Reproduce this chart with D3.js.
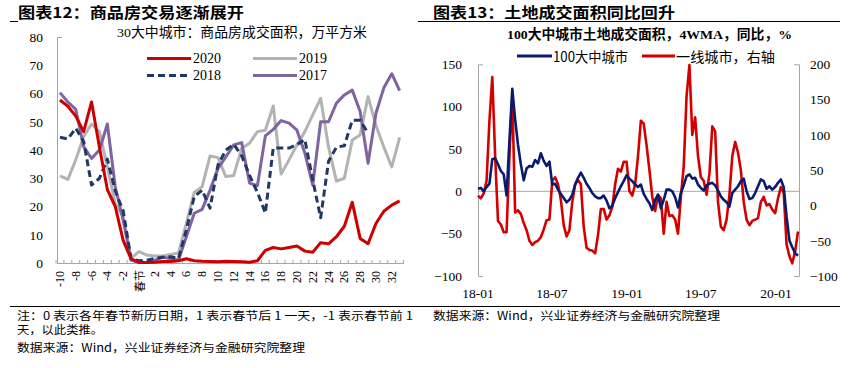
<!DOCTYPE html>
<html><head><meta charset="utf-8">
<script src="https://cdn.jsdelivr.net/npm/d3@7"></script>
<style>
body{margin:0;background:#fff;}
svg{display:block;background:#fff;}
text{font-family:"Liberation Serif","Noto Sans CJK SC",serif;fill:#000;}
.cjk{font-family:"Noto Sans CJK SC","Liberation Serif",sans-serif;}
</style></head><body>
<svg id="c" width="865" height="368"></svg>
<script>
// ---------- Chart 12 data ----------
const categories = [-10,-9,-8,-7,-6,-5,-4,-3,-2,-1,0,1,2,3,4,5,6,7,8,9,10,11,12,13,14,15,16,17,18,19,20,21,22,23,24,25,26,27,28,29,30,31,32,33];
const xTickValues = [-10,-8,-6,-4,-2,0,2,4,6,8,10,12,14,16,18,20,22,24,26,28,30,32];
const xTickLabels = ["-10","-8","-6","-4","-2","春节","2","4","6","8","10","12","14","16","18","20","22","24","26","28","30","32"];
const yTicksLeft = [0,10,20,30,40,50,60,70,80];
const s2020 = [57.7,55.5,52,46.5,57,41,26,20,8,1.5,0.2,0.2,0.3,0.5,0.5,0.8,1.5,0.8,0.6,0.5,0.4,0.6,0.5,0.4,0.3,0.8,4.5,5.5,5,5.5,6,4.2,3.8,7.2,6.8,9.3,13,21.5,8.7,6.8,14,18.3,20.5,22];
const s2019 = [30.8,29.6,36.5,44.7,49.2,46.5,34,21,16.4,1.7,4,2.8,2.5,2.5,3,3.5,14,25,27,37.9,37.3,30.6,31,40.6,42.4,46.5,47,55.6,31.5,36.5,41.8,46.5,52.4,58.3,41,29,30,43.5,45.3,58.9,48.8,41,34,44.5];
const s2018 = [44.5,43.9,47.7,43,27.6,30,36.8,25.5,18.5,1.5,0.8,1,1.6,2,2.2,1.6,11.7,23.5,25.8,19.4,34.7,40,42,38,31,25,17.7,40.7,40.7,40.7,41.9,43.7,29.4,16,36,41,41.5,50.5,50.5,46,null,null,null,null];
const s2017 = [60.3,57,54.4,41.2,37,40,49.2,27,15.2,1,0.2,0.2,1,2,1.6,1,9.3,17.6,19,25.8,33.5,37.6,41.8,42.6,28.3,27.4,45,47.3,50.4,49.5,47,38.9,27.6,50,50,56.6,59.5,61.2,53.6,35.3,53,62,67,61];
const seriesNames12 = ["2020","2019","2018","2017"];

// ---------- Chart 13 data ----------
const weekStart = "2018-01-01", weekEnd = "2020-02-25";
const city100 = [3,4,0,5,9,38,39,32,24,20,-5,60,121,85,55,32,13,27,30,29,37,33,45,36,30,35,8,9,2,-3,-8,-13,-10,-4,8,16,22,16,9,4,-2,-6,-8,-8,-5,-11,-20,-17,-8,-1,6,12,19,15,12,8,5,8,-3,-9,-14,-22,-10,-4,-20,-10,2,2,0,-7,-19,-2,7,18,20,15,16,8,4,1,7,9,10,7,1,-6,-10,-13,-18,-2,2,6,12,15,0,-9,-8,-2,6,14,12,3,6,2,5,10,14,5,-30,-58,-66,-73,-76];
const tier1 = [14,10,17,35,120,182,70,-22,-27,-38,-38,70,155,-10,-7,-12,-25,-35,-50,-56,-52,-50,-45,-34,-21,-20,35,40,30,8,-28,-44,-35,5,30,36,30,-30,-60,-63,-64,-68,-42,-5,-5,-20,-14,-2,30,52,48,62,62,20,14,30,70,120,116,85,50,12,-8,15,10,-40,5,-15,-14,-20,-40,12,55,155,199,100,125,70,40,35,15,45,112,105,5,-30,-35,-20,15,70,90,75,50,5,-20,-28,-22,-20,-18,5,12,0,2,-6,-11,10,26,18,-55,-72,-82,-65,-37];
const yTicksL13 = [-100,-50,0,50,100,150];
const yTicksR13 = [-100,-50,0,50,100,150,200];
const xLabels13 = ["18-01","18-07","19-01","19-07","20-01"];

const svg = d3.select("#c");
svg.append("rect").attr("width",865).attr("height",368).attr("fill","#fff");

// ---------- Headers / frame lines ----------
svg.append("text").attr("class","cjk").attr("x",18).attr("y",17.5).attr("font-size",15).attr("font-weight","bold")
  .attr("textLength",226).attr("lengthAdjust","spacingAndGlyphs").text("图表12：商品房交易逐渐展开");
svg.append("text").attr("class","cjk").attr("x",433).attr("y",17.5).attr("font-size",15).attr("font-weight","bold")
  .attr("textLength",242).attr("lengthAdjust","spacingAndGlyphs").text("图表13：土地成交面积同比回升");
const hl = (x1,x2,y)=>svg.append("line").attr("x1",x1).attr("x2",x2).attr("y1",y).attr("y2",y).attr("stroke","#000").attr("stroke-width",1);
hl(10,18,21.5); hl(418,840,21.5); hl(10,840,306.5);

// ---------- Chart 12 ----------
const x12 = d3.scaleBand().domain(categories).range([56,403.6]).padding(0);
const y12 = d3.scaleLinear().domain([0,80]).range([263,37]);
const axisCol = "#a6a6a6";

svg.append("text").attr("x",242).attr("y",37).attr("text-anchor","middle").attr("font-size",13.5)
  .attr("textLength",250).attr("lengthAdjust","spacingAndGlyphs").text("30大中城市：商品房成交面积，万平方米");

const yAx12 = svg.append("g").attr("transform","translate(57,0)")
  .call(d3.axisLeft(y12).tickValues(yTicksLeft).tickSizeInner(0).tickSizeOuter(-5).tickPadding(14));
yAx12.select(".domain").attr("stroke",axisCol);
yAx12.selectAll("text").attr("font-size",13.5).attr("fill","#000").attr("font-family","Liberation Serif");

// x axis line + inward ticks
svg.append("line").attr("x1",57).attr("x2",404).attr("y1",263.5).attr("y2",263.5).attr("stroke",axisCol);
svg.append("g").selectAll("line").data(categories.concat(["end"])).join("line")
  .attr("x1",d=>d==="end"?403.6:x12(d)).attr("x2",d=>d==="end"?403.6:x12(d))
  .attr("y1",263.5).attr("y2",260).attr("stroke",axisCol);
svg.append("g").selectAll("text").data(xTickValues).join("text")
  .attr("transform",d=>`translate(${x12(d)+x12.bandwidth()/2},${d===0?270:271}) rotate(-90)`)
  .attr("text-anchor","end").attr("dominant-baseline","central")
  .attr("font-size",d=>d===0?11:12).attr("class",d=>d===0?"cjk":null)
  .text((d,i)=>xTickLabels[i]);

const line12 = d3.line().defined(d=>d.v!=null).x(d=>x12(d.c)+x12.bandwidth()/2).y(d=>y12(d.v));
const mk = arr => categories.map((c,i)=>({c, v:arr[i]}));
const styles12 = {
  "2019":{data:s2019,color:"#b3b3b3",dash:null,w:3},
  "2017":{data:s2017,color:"#8064a2",dash:null,w:3},
  "2018":{data:s2018,color:"#1f3864",dash:"7,4",w:3},
  "2020":{data:s2020,color:"#cc0000",dash:null,w:3}
};
["2019","2017","2018","2020"].forEach(k=>{
  const s = styles12[k];
  svg.append("path").datum(mk(s.data)).attr("d",line12).attr("fill","none")
    .attr("stroke",s.color).attr("stroke-width",s.w).attr("stroke-linejoin","round")
    .attr("stroke-dasharray",s.dash);
});
// legend
const leg12 = [{k:"2020",x:147,y:58.5},{k:"2019",x:253,y:58.5},{k:"2018",x:147,y:75.5},{k:"2017",x:253,y:75.5}];
leg12.forEach(l=>{
  const s = styles12[l.k];
  svg.append("line").attr("x1",l.x).attr("x2",l.x+44).attr("y1",l.y).attr("y2",l.y)
    .attr("stroke",s.color).attr("stroke-width",s.w).attr("stroke-dasharray",s.dash);
  svg.append("text").attr("x",l.x+46).attr("y",l.y).attr("dominant-baseline","central").attr("font-size",14).text(l.k);
});

// notes
const note = (x,y,t,len)=>{const e=svg.append("text").attr("class","cjk").attr("x",x).attr("y",y).attr("font-size",11.5).attr("fill","#111").text(t); if(len) e.attr("textLength",len).attr("lengthAdjust","spacingAndGlyphs"); return e;};
note(17,319.5,"注：0 表示各年春节新历日期，1 表示春节后 1 一天，-1 表示春节前 1",396);
note(17,334,"天，以此类推。",86);
note(17,352,"数据来源：Wind，兴业证券经济与金融研究院整理",288);
note(433,319.5,"数据来源：Wind，兴业证券经济与金融研究院整理",287);

// ---------- Chart 13 ----------
const weeks = d3.timeMonday.range(new Date(weekStart+"T00:00:00"), new Date(weekEnd+"T00:00:00"));
const x13 = d3.scaleTime().domain([weeks[0], weeks[weeks.length-1]]).range([478,798]);
const yL = d3.scaleLinear().domain([-100,150]).range([276,64.3]);
const yR = d3.scaleLinear().domain([-100,200]).range([276,64.3]);

svg.append("text").attr("x",649.5).attr("y",39).attr("text-anchor","middle").attr("font-size",13.5).attr("font-weight","bold")
  .attr("textLength",285).attr("lengthAdjust","spacingAndGlyphs").text("100大中城市土地成交面积，4WMA，同比，%");

const aL = svg.append("g").attr("transform","translate(478,0)")
  .call(d3.axisLeft(yL).tickValues(yTicksL13).tickSizeInner(0).tickSizeOuter(-5).tickPadding(16));
const aR = svg.append("g").attr("transform","translate(799,0)")
  .call(d3.axisRight(yR).tickValues(yTicksR13).tickSizeInner(0).tickSizeOuter(-5).tickPadding(11));
[aL,aR].forEach(a=>{a.select(".domain").attr("stroke",axisCol); a.selectAll("text").attr("font-size",13.5).attr("fill","#000").attr("font-family","Liberation Serif");});
// zero line
svg.append("line").attr("x1",478).attr("x2",799).attr("y1",yL(0)).attr("y2",yL(0)).attr("stroke",axisCol);
// x labels
const parseYM = d3.timeParse("%y-%m");
svg.append("g").selectAll("text").data(xLabels13).join("text")
  .attr("x",d=>x13(parseYM(d))).attr("y",298).attr("text-anchor","middle").attr("font-size",13.5).text(d=>d);

const lineL = d3.line().x((d,i)=>x13(weeks[i])).y(d=>yL(d));
const lineR = d3.line().x((d,i)=>x13(weeks[i])).y(d=>yR(d));
svg.append("path").datum(tier1).attr("d",lineR).attr("fill","none").attr("stroke","#d40000").attr("stroke-width",2.6).attr("stroke-linejoin","round");
svg.append("path").datum(city100).attr("d",lineL).attr("fill","none").attr("stroke","#0a1a6e").attr("stroke-width",2.6).attr("stroke-linejoin","round");

// legend
svg.append("line").attr("x1",517).attr("x2",552).attr("y1",56).attr("y2",56).attr("stroke","#0a1a6e").attr("stroke-width",3);
svg.append("text").attr("class","cjk").attr("x",553).attr("y",56).attr("dominant-baseline","central").attr("font-size",14).attr("fill","#444")
  .attr("textLength",75).attr("lengthAdjust","spacingAndGlyphs").text("100大中城市");
svg.append("line").attr("x1",642).attr("x2",675).attr("y1",56).attr("y2",56).attr("stroke","#d40000").attr("stroke-width",3);
svg.append("text").attr("class","cjk").attr("x",676).attr("y",56).attr("dominant-baseline","central").attr("font-size",14).attr("fill","#444")
  .attr("textLength",99).attr("lengthAdjust","spacingAndGlyphs").text("一线城市，右轴");
</script>
</body></html>
